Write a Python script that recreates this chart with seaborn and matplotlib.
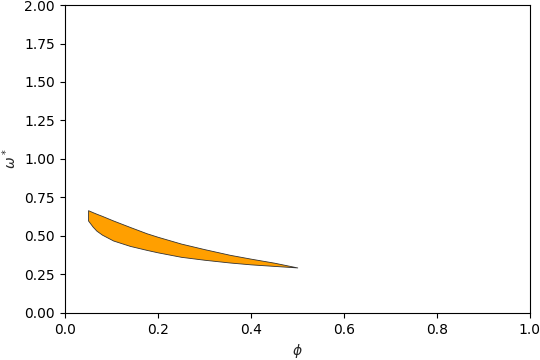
import matplotlib
matplotlib.use("Agg")
import matplotlib.pyplot as plt
import numpy as np
import seaborn as sns

# values
phi = [0.05, 0.06, 0.068, 0.08, 0.104, 0.14, 0.176, 0.2, 0.25, 0.3, 0.355, 0.4, 0.45, 0.5]
omega_upper = [0.667, 0.654, 0.644, 0.630, 0.600, 0.558, 0.517, 0.494, 0.450, 0.414, 0.377, 0.352, 0.326, 0.295]
omega_lower = [0.600, 0.560, 0.534, 0.508, 0.470, 0.435, 0.409, 0.393, 0.364, 0.345, 0.327, 0.315, 0.305, 0.295]

sns.set_style("ticks")
plt.rcParams['font.family'] = ['DejaVu Sans']

fig, ax = plt.subplots(figsize=(5.4, 3.6), dpi=100)
fig.subplots_adjust(left=0.12, right=0.981, top=0.986, bottom=0.131)

ax.fill_between(phi, omega_lower, omega_upper, facecolor='#ff9f00', edgecolor='#333333', linewidth=0.6)

ax.set_xlim(0, 1)
ax.set_ylim(0, 2)
ax.set_xticks(np.arange(0, 1.01, 0.2))
ax.set_yticks(np.arange(0, 2.01, 0.25))
ax.xaxis.set_major_formatter(matplotlib.ticker.FormatStrFormatter('%.1f'))
ax.yaxis.set_major_formatter(matplotlib.ticker.FormatStrFormatter('%.2f'))
ax.set_xlabel(r'$\phi$')
ax.set_ylabel(r'$\omega^*$')
for s in ax.spines.values():
    s.set_color('black')
    s.set_linewidth(0.8)
ax.tick_params(colors='black', labelsize=10, length=3.5, width=0.8)

fig.savefig('out.png', dpi=100)
